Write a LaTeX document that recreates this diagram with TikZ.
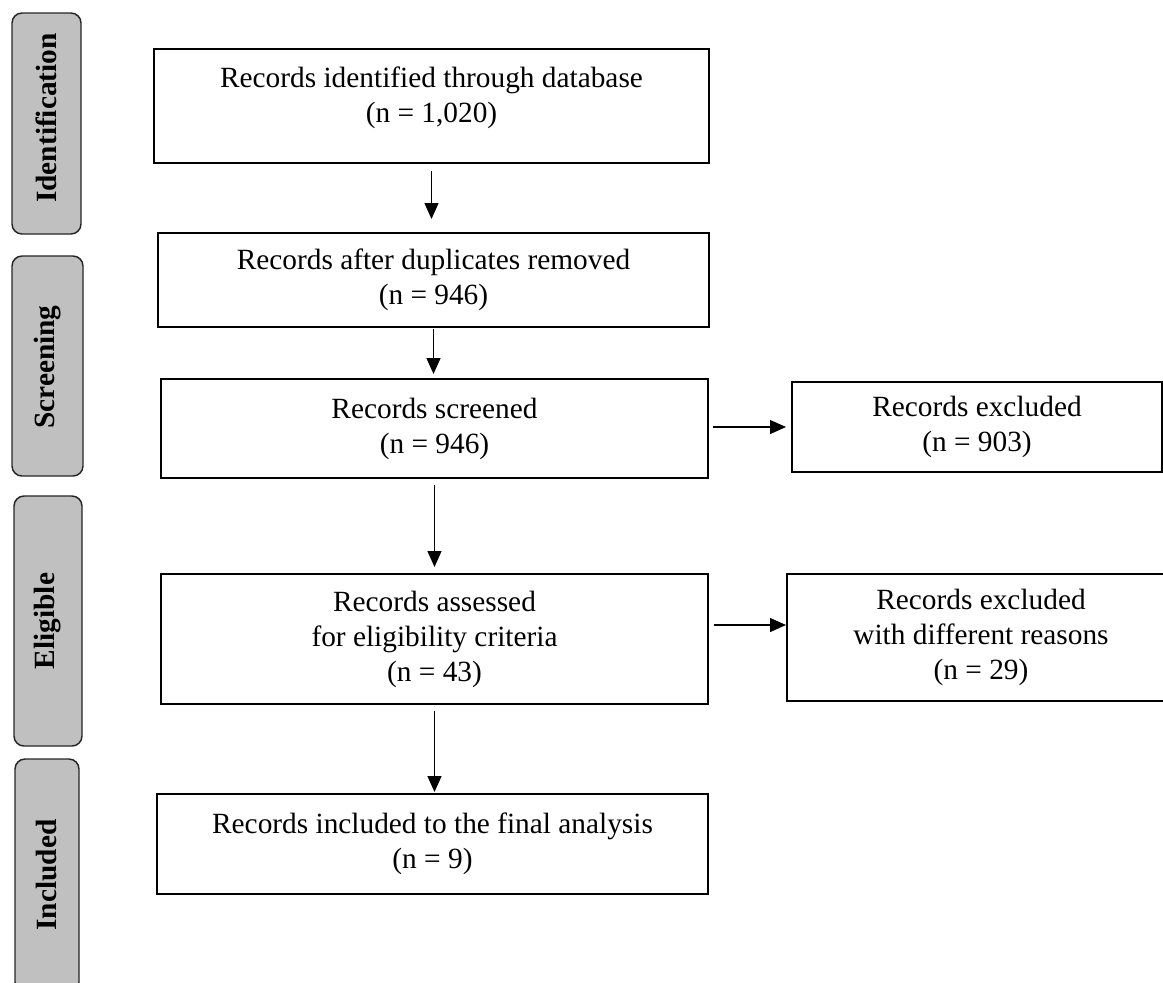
\documentclass[tikz,border=0pt]{standalone}
\usepackage{fontspec}
\setmainfont{Liberation Serif}
\usetikzlibrary{fit,arrows.meta}
\definecolor{barfill}{HTML}{C0C0C0}
\begin{document}
\begin{tikzpicture}[x=0.75pt,y=-0.75pt,
  txt/.style={align=center, font=\fontsize{22}{26.25}\selectfont},
  box/.style={draw, line width=1.5pt, inner sep=0pt, txt},
  phase/.style={draw=black!85, line width=1.1pt, fill=barfill, rounded corners=7.5pt, inner sep=0pt},
  phasetext/.style={rotate=90, font=\fontsize{22}{26.25}\selectfont\bfseries},
  arr/.style={line width=1pt, -{Triangle[length=12pt,width=10.5pt]}}]
\useasboundingbox (0,0) rectangle (1163,982);
\clip (0,0) rectangle (1163,982);
% phase bars
\node[phase, fit={(12,13) (81,234)}] (p1) {};
\node[phasetext] (p1t) at (46.5,118) {Identification};
\node[phase, fit={(12,256) (83,476)}] (p2) {};
\node[phasetext] (p2t) at (47.5,367) {Screening};
\node[phase, fit={(14,496) (82,746)}] (p3) {};
\node[phasetext] (p3t) at (48,621) {Eligible};
\node[phase, fit={(15,759) (79,992)}] (p4) {};
\node[phasetext] (p4t) at (47,875) {Included};
% boxes (centre, width*0.75pt, height*0.75pt)
\node[box, minimum width=555*0.75pt, minimum height=114*0.75pt] (b1) at (431.5,106) {};
\node[txt] (b1t) at (431.5,97.5) {Records identified through database\\(n = 1,020)};
\node[box, minimum width=551*0.75pt, minimum height=94*0.75pt] (b2) at (433.5,280) {Records after duplicates removed\\(n = 946)};
\node[box, minimum width=547*0.75pt, minimum height=99*0.75pt] (b3) at (434.5,428.5) {Records screened\\(n = 946)};
\node[box, minimum width=370*0.75pt, minimum height=90*0.75pt] (e1) at (977,427) {Records excluded\\(n = 903)};
\node[box, minimum width=547*0.75pt, minimum height=130*0.75pt] (b4) at (434.5,639) {Records assessed\\for eligibility criteria\\(n = 43)};
\node[box, minimum width=388*0.75pt, minimum height=127*0.75pt] (e2) at (981,637.5) {Records excluded\\with different reasons\\(n = 29)};
\node[box, minimum width=551*0.75pt, minimum height=100*0.75pt] (b5) at (432.5,844) {Records included to the final analysis\\(n = 9)};
% arrows
\draw[arr, shorten <=5.25pt, shorten >=9.75pt] (b1.south) -- (b1.south |- b2.north);
\draw[arr, shorten <=0.75pt, shorten >=3pt] (b2.south) -- (b2.south |- b3.north);
\draw[arr, shorten <=4.5pt, shorten >=4.5pt] (b3.south) -- (b3.south |- b4.north);
\draw[arr, shorten <=4.5pt, shorten >=0.75pt] (b4.south) -- (b4.south |- b5.north);
\draw[arr, shorten <=3pt, shorten >=3.75pt] (e1.west -| b3.east) -- (e1.west);
\draw[arr, shorten <=3.75pt] ([yshift=10.5pt]b4.east) -- ([yshift=10.5pt]b4.east -| e2.west);
\end{tikzpicture}
\end{document}
